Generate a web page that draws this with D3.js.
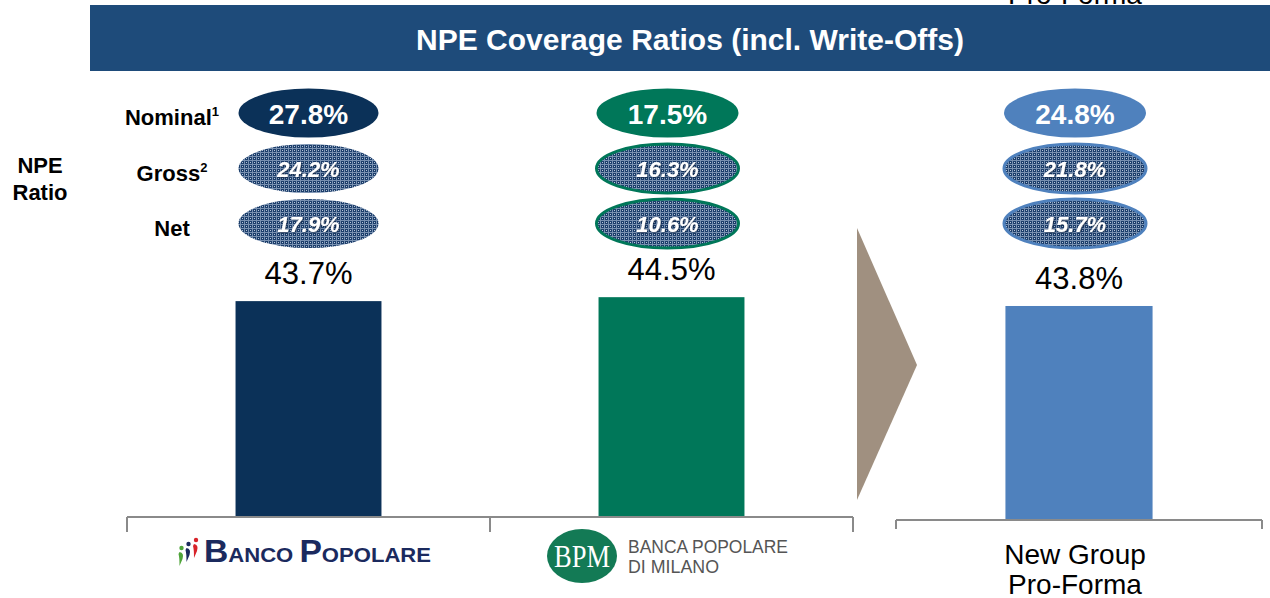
<html>
<head>
<meta charset="utf-8">
<script src="https://d3js.org/d3.v7.min.js"></script>
<style>
  body { margin: 0; background: #fff; }
  svg { display: block; font-family: Arial, "Liberation Sans", sans-serif; }
</style>
</head>
<body>
<svg width="1270" height="598"></svg>
<script>
  // ---- data ----
  const categories = ["Banco Popolare", "Banca Popolare di Milano", "New Group Pro-Forma"];
  const coverage = [43.7, 44.5, 43.8];      // NPE coverage incl. write-offs, %
  const nominal = [27.8, 17.5, 24.8];       // NPE ratio nominal
  const gross = [24.2, 16.3, 21.8];         // NPE ratio gross
  const net = [17.9, 10.6, 15.7];           // NPE ratio net
  const rowLabels = ["Nominal", "Gross", "Net"];
  const rowNotes = ["1", "2", ""];
  const colors = ["#0B3158", "#007759", "#4F81BD"];

  const svg = d3.select("svg");
  const fmt = d => d.toFixed(1) + "%";

  // hatched fill used by gross / net ellipses
  const defs = svg.append("defs");
  const pat = defs.append("pattern").attr("id", "hatch")
    .attr("width", 4).attr("height", 4).attr("patternUnits", "userSpaceOnUse");
  pat.append("rect").attr("width", 4).attr("height", 4).attr("fill", "#1c3e6b");
  pat.append("rect").attr("width", 4).attr("height", 1).attr("fill", "#7890b0");
  pat.append("rect").attr("width", 1).attr("height", 4).attr("fill", "#7890b0");
  pat.append("rect").attr("x", 2).attr("y", 2).attr("width", 1).attr("height", 1).attr("fill", "#b8c6d8");

  // dark soft shadow for the italic figures
  const sh = defs.append("filter").attr("id", "shadow").attr("x", "-10%").attr("y", "-20%").attr("width", "120%").attr("height", "140%");
  sh.append("feDropShadow").attr("dx", 0.8).attr("dy", 0.8).attr("stdDeviation", 0.8).attr("flood-color", "#0a1f3c").attr("flood-opacity", 0.9);

  // clipped text at the very top (left over from the slide)
  svg.append("text").attr("x", 1075).attr("y", 4).attr("text-anchor", "middle")
    .attr("font-size", 28).attr("fill", "#000").text("Pro-Forma");

  // title bar
  svg.append("rect").attr("x", 90).attr("y", 5).attr("width", 1180).attr("height", 66).attr("fill", "#1E4B7A");
  svg.append("text").attr("x", 690).attr("y", 50).attr("text-anchor", "middle")
    .attr("fill", "#fff").attr("font-weight", "bold").attr("font-size", 30)
    .text("NPE Coverage Ratios (incl. Write-Offs)");

  // scales: two panels (stand-alone banks, new group)
  const x1 = d3.scaleBand().domain(categories.slice(0, 2)).range([127, 853])
    .paddingInner(0.598).paddingOuter(0.299);
  const x2 = d3.scaleBand().domain(categories.slice(2)).range([896, 1262])
    .paddingInner(0.598).paddingOuter(0.299);
  const y1 = d3.scaleLinear().domain([0, 50]).range([517, 517 - 247]);
  const y2 = d3.scaleLinear().domain([0, 50]).range([520, 520 - 244.3]);

  const panel = i => i < 2 ? { x: x1, y: y1 } : { x: x2, y: y2 };

  const bars = categories.map((c, i) => {
    const p = panel(i);
    return { c, i, v: coverage[i], x: p.x(c), w: p.x.bandwidth(), y: p.y(coverage[i]), y0: p.y(0) };
  });

  svg.append("g").selectAll("rect").data(bars).join("rect")
    .attr("x", d => d.x).attr("y", d => d.y)
    .attr("width", d => d.w).attr("height", d => d.y0 - d.y)
    .attr("fill", d => colors[d.i]);

  svg.append("g").selectAll("text").data(bars).join("text")
    .attr("x", d => d.x + d.w / 2).attr("y", d => d.y - 17)
    .attr("text-anchor", "middle").attr("font-size", 31).attr("fill", "#000")
    .text(d => fmt(d.v));

  // category brackets
  function bracket(scale, y, tick) {
    const [a, b] = scale.range();
    const g = svg.append("g").attr("fill", "none").attr("stroke", "#8a8a8a").attr("stroke-width", 2);
    g.append("line").attr("x1", a).attr("x2", b).attr("y1", y).attr("y2", y);
    const ticks = [a, b].concat(scale.domain().length > 1 ? [scale(scale.domain()[1]) - scale.step() * scale.paddingInner() / 2] : []);
    g.selectAll("line.t").data(ticks).join("line").attr("class", "t")
      .attr("x1", d => d).attr("x2", d => d).attr("y1", y).attr("y2", y + tick);
  }
  bracket(x1, 517, 15);
  bracket(x2, 520, 9);

  // NPE ratio ellipses
  const rows = [nominal, gross, net];
  const rowY = [113, 168.5, 223.5];
  rows.forEach((vals, r) => {
    const g = svg.append("g");
    g.selectAll("ellipse").data(bars).join("ellipse")
      .attr("cx", d => d.x + d.w / 2 - (d.i ? 4 : 0)).attr("cy", rowY[r])
      .attr("rx", d => d.i ? 71 : 70).attr("ry", 24.5)
      .attr("fill", d => r === 0 ? colors[d.i] : "url(#hatch)")
      .attr("stroke", d => r === 0 || d.i === 0 ? "none" : colors[d.i])
      .attr("stroke-width", 3);
    g.selectAll("text").data(bars).join("text")
      .attr("x", d => d.x + d.w / 2 - (d.i ? 4 : 0))
      .attr("y", rowY[r] + (r === 0 ? 11 : 8))
      .attr("text-anchor", "middle").attr("fill", "#fff").attr("font-weight", "bold")
      .attr("font-style", r === 0 ? "normal" : "italic")
      .attr("font-size", r === 0 ? 28 : 22)
      .attr("filter", r === 0 ? null : "url(#shadow)")
      .text(d => fmt(vals[d.i]));
  });

  // row labels
  const lab = svg.append("g").attr("font-weight", "bold").attr("font-size", 22).attr("fill", "#000");
  rowLabels.forEach((t, r) => {
    const tx = lab.append("text").attr("x", 172).attr("y", rowY[r] + 12).attr("text-anchor", "middle");
    tx.append("tspan").text(t);
    if (rowNotes[r]) tx.append("tspan").attr("font-size", 13).attr("dy", -9).text(rowNotes[r]);
  });
  lab.append("text").attr("x", 40).attr("y", 173).attr("text-anchor", "middle").text("NPE");
  lab.append("text").attr("x", 40).attr("y", 200).attr("text-anchor", "middle").text("Ratio");

  // arrow between panels
  svg.append("path").attr("d", "M857,228 L917,365 L857,500 Z").attr("fill", "#A09080");

  // ---- category "logos" ----
  // Banco Popolare
  const bp = svg.append("g");
  const figs = [["#4fa43a", 180.5, 551], ["#1b2a5e", 187.5, 547], ["#d8232a", 195, 543]];
  figs.forEach(([c, fx, fy]) => {
    bp.append("circle").attr("cx", fx + 1).attr("cy", fy - 3).attr("r", 2.2).attr("fill", c);
    bp.append("path").attr("d", `M${fx - 1},${fy + 1} Q${fx + 4},${fy + 2} ${fx + 2},${fy + 8} L${fx - 1},${fy + 15} Q${fx - 1},${fy + 6} ${fx - 2},${fy + 3} Z`)
      .attr("fill", c);
  });
  const bpt = bp.append("text").attr("x", 204).attr("y", 562).attr("fill", "#1b2a5e")
    .attr("font-weight", "bold").attr("textLength", 227).attr("lengthAdjust", "spacingAndGlyphs");
  bpt.append("tspan").attr("font-size", 32).text("B");
  bpt.append("tspan").attr("font-size", 21).text("ANCO ");
  bpt.append("tspan").attr("font-size", 32).text("P");
  bpt.append("tspan").attr("font-size", 21).text("OPOLARE");

  // Banca Popolare di Milano
  const bpm = svg.append("g");
  bpm.append("ellipse").attr("cx", 582).attr("cy", 556).attr("rx", 35).attr("ry", 27).attr("fill", "#137a55");
  bpm.append("text").attr("x", 582).attr("y", 567).attr("text-anchor", "middle")
    .attr("font-family", "'Liberation Serif', 'DejaVu Serif', serif").attr("font-size", 32)
    .attr("fill", "#fff").attr("textLength", 56).attr("lengthAdjust", "spacingAndGlyphs").text("BPM");
  bpm.append("text").attr("x", 628).attr("y", 553).attr("font-size", 19).attr("fill", "#555")
    .attr("textLength", 160).attr("lengthAdjust", "spacingAndGlyphs").text("BANCA POPOLARE");
  bpm.append("text").attr("x", 628).attr("y", 573).attr("font-size", 19).attr("fill", "#555")
    .attr("textLength", 91).attr("lengthAdjust", "spacingAndGlyphs").text("DI MILANO");

  // New Group label
  const ng = svg.append("text").attr("text-anchor", "middle").attr("font-size", 28).attr("fill", "#000");
  ng.append("tspan").attr("x", 1075).attr("y", 564).text("New Group");
  ng.append("tspan").attr("x", 1075).attr("y", 594).text("Pro-Forma");
</script>
</body>
</html>
